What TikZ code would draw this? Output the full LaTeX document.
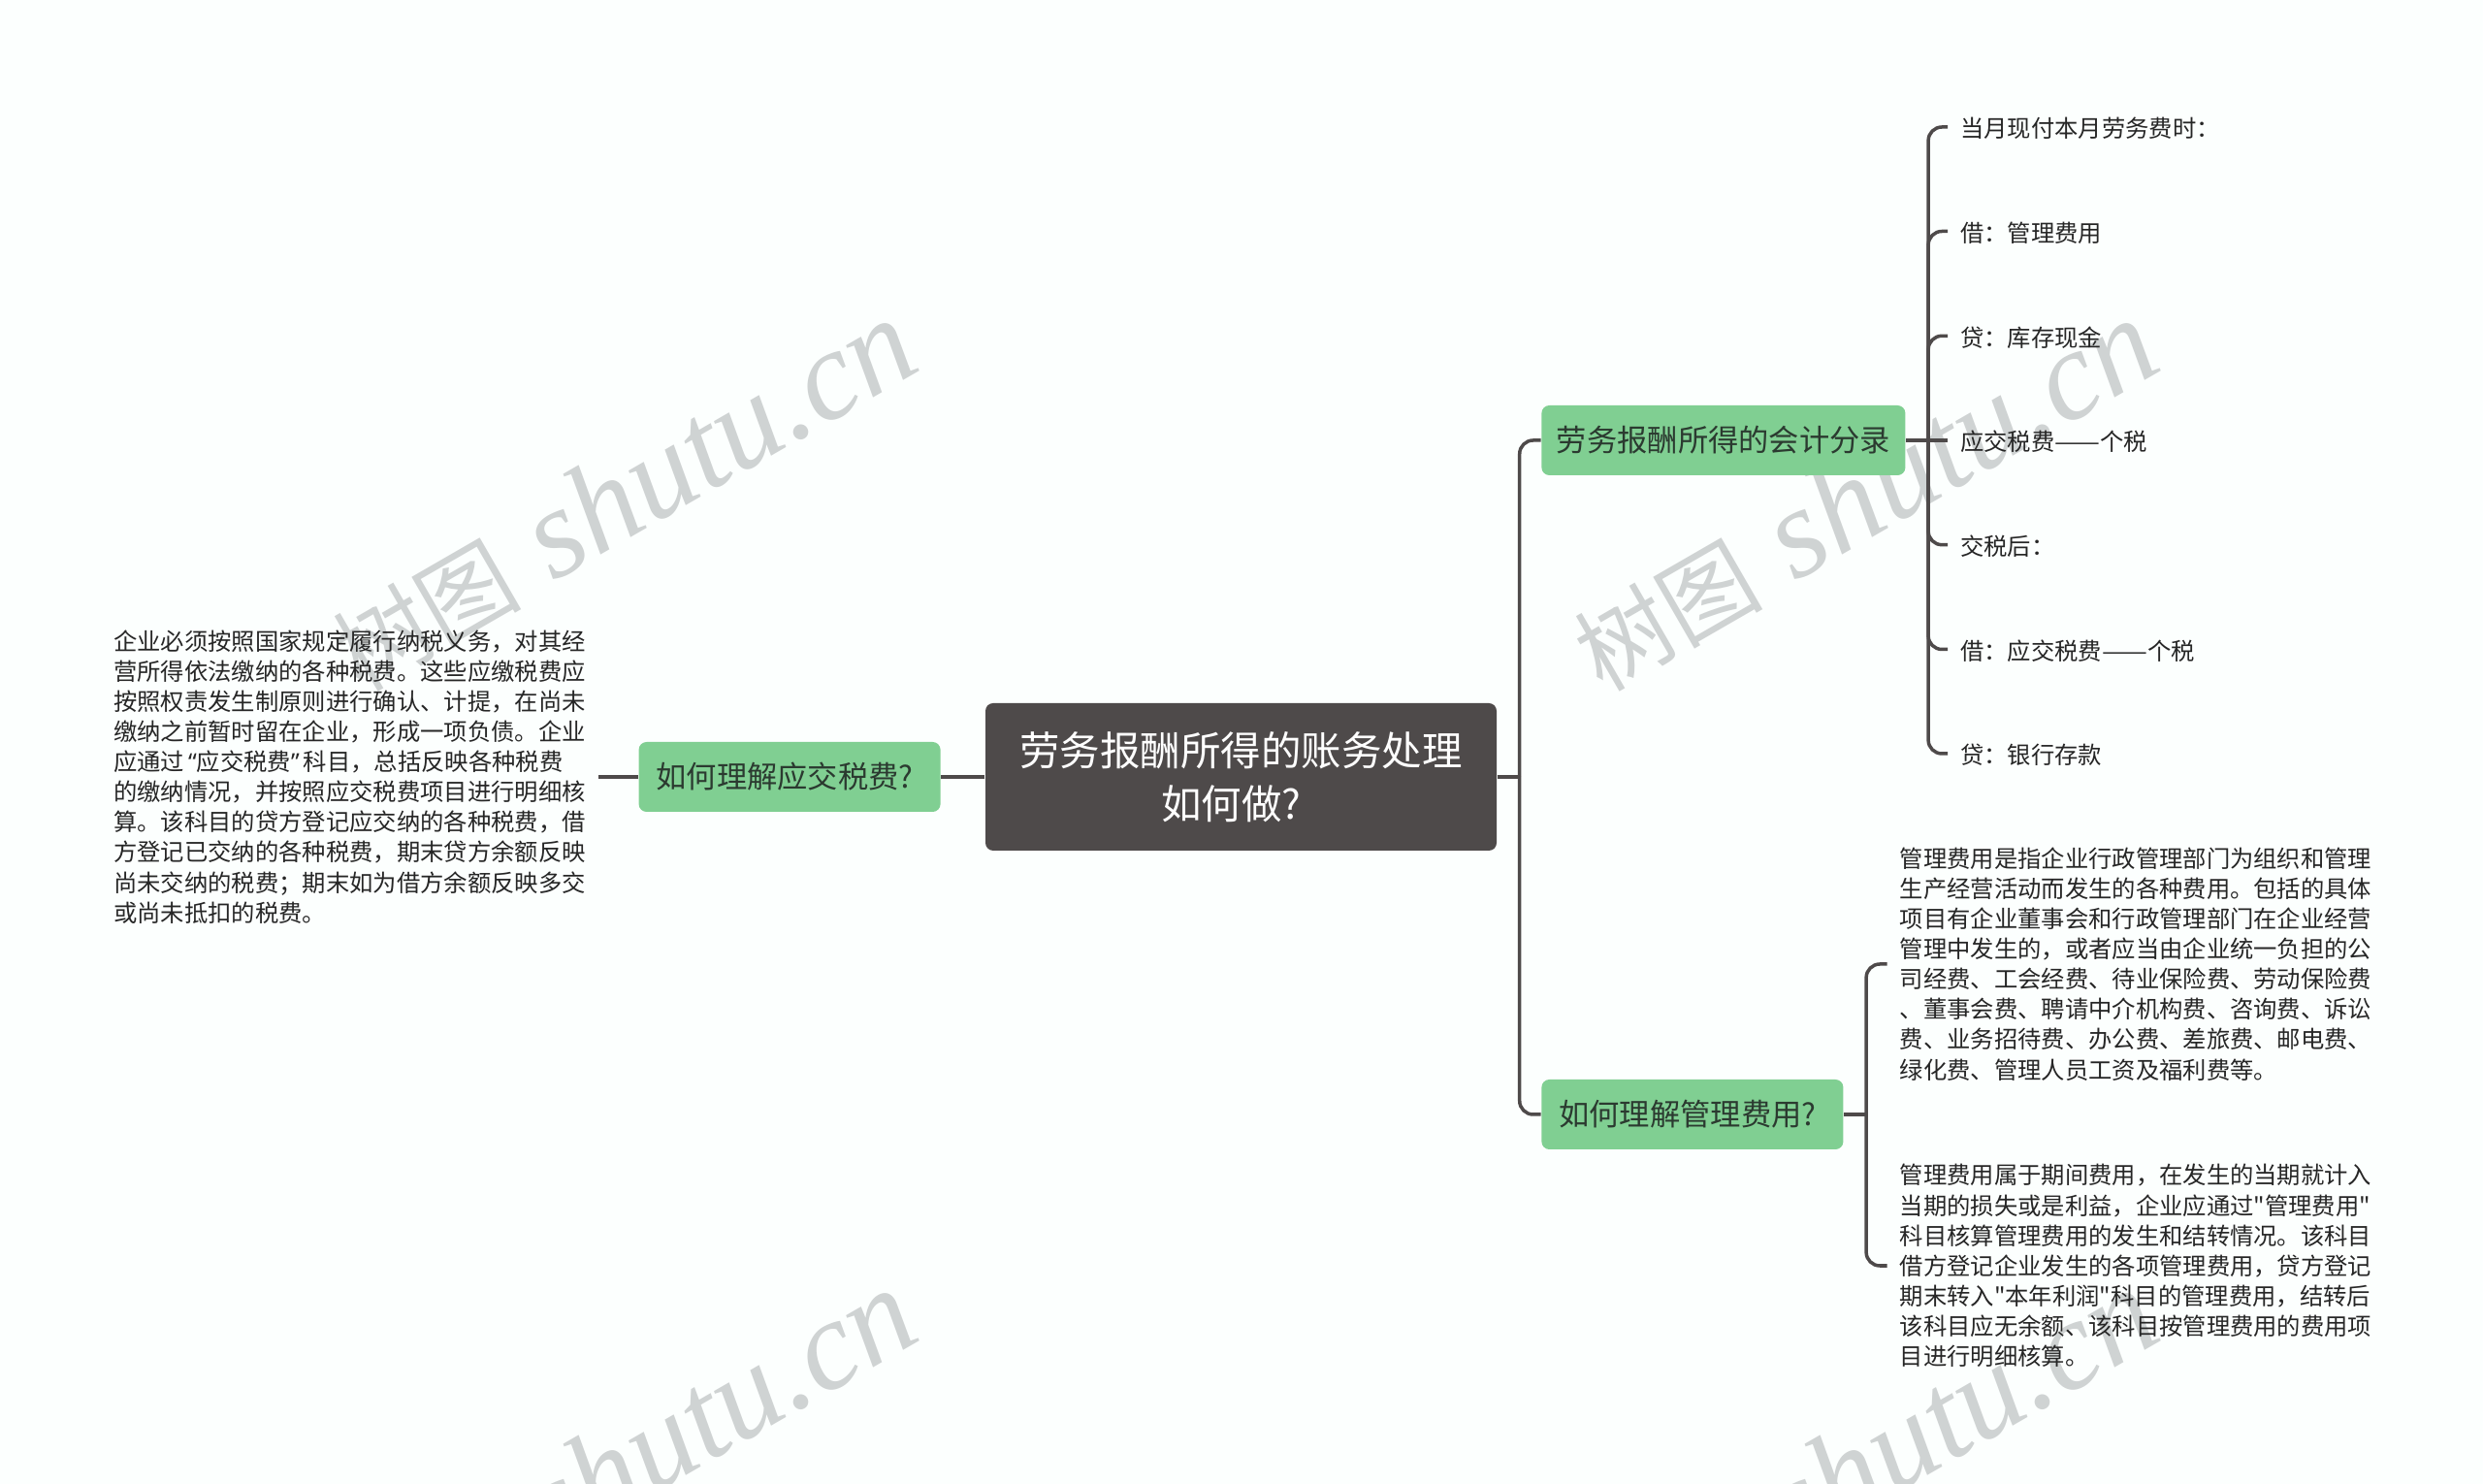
\documentclass[tikz,border=0pt]{standalone}
\usepackage{fontspec}
\usepackage{xcolor}
\usepackage{graphicx}
\usetikzlibrary{positioning}
\setmainfont{Noto Sans CJK SC}[Ligatures=TeXOff]
\newfontfamily\markfont{Liberation Serif}
\newfontfamily\latinfont{Noto Sans}
\newcommand{\marktext}{树图\hspace{0.13cm} {\fontsize{37.4pt}{37.4pt}\selectfont\markfont\itshape shutu.cn}}
\newcommand{\longdash}{\scalebox{1.15}[1]{——}}
\definecolor{bgcol}{HTML}{FCFFFE}
\definecolor{darkcol}{HTML}{4E4A4A}
\definecolor{greencol}{HTML}{80CF92}
\definecolor{inkcol}{HTML}{2B3A30}
\definecolor{markcol}{HTML}{CFD3D3}

\tikzset{
	conn/.style={draw=darkcol, line width=1pt, rounded corners=0.14cm},
	rootbox/.style={rectangle, rounded corners=0.08cm, fill=darkcol, text=white, align=center, font=\fontsize{11.8pt}{15.8pt}\selectfont, minimum width=5.27cm, minimum height=1.52cm, inner sep=0pt},
	branchbox/.style={rectangle, rounded corners=0.08cm, fill=greencol, text=inkcol, font=\fontsize{8.9pt}{11pt}\selectfont, minimum height=0.72cm, inner sep=0pt},
	leaf/.style={text=black!85, font=\fontsize{6.92pt}{8.84pt}\selectfont, inner ysep=0pt, inner xsep=0.125cm, align=left},
	oneline/.style={leaf, text height=7pt, text depth=0.9pt},
	wmark/.style={text=markcol, rotate=30, font=\fontsize{27.7pt}{27.7pt}\selectfont, inner sep=0pt}
}

\begin{document}
\begin{tikzpicture}
	\fill[bgcol] (0,0) rectangle (25.6,15.3);
	\clip (0,0) rectangle (25.6,15.3);

	% watermark
	\node[wmark] (mark1) at (6.42,10.19) {\marktext};
	\node[wmark] (mark2) at (19.22,10.19) {\marktext};
	\node[wmark] (mark3) at (6.42,0.19) {\marktext};
	\node[wmark] (mark4) at (19.22,0.19) {\marktext};

	\node[rootbox] (root) at (12.795,7.29) {劳务报酬所得的账务处理\\如何做?\hspace{0.2cm}\null};

	\node[branchbox, minimum width=3.75cm, right=0.45cm of root, yshift=3.47cm] (entry) {劳务报酬所得的会计分录};
	\node[branchbox, minimum width=3.11cm, right=0.45cm of root, yshift=-3.48cm] (admin) {如何理解管理费用?\hspace{0.1cm}\null};
	\node[branchbox, minimum width=3.11cm, left=0.45cm of root] (tax) {如何理解应交税费?\hspace{0.1cm}\null};

	\node[oneline, right=0.43cm of entry, yshift=3.23cm] (e1) {当月现付本月劳务费时：};
	\node[oneline, right=0.43cm of entry, yshift=2.155cm] (e2) {借：管理费用};
	\node[oneline, right=0.43cm of entry, yshift=1.077cm] (e3) {贷：库存现金};
	\node[oneline, right=0.43cm of entry] (e4) {应交税费\longdash 个税};
	\node[oneline, right=0.43cm of entry, yshift=-1.077cm] (e5) {交税后：};
	\node[oneline, right=0.43cm of entry, yshift=-2.155cm] (e6) {借：应交税费\longdash 个税};
	\node[oneline, right=0.43cm of entry, yshift=-3.23cm] (e7) {贷：银行存款};

	\node[leaf, right=0.445cm of admin, yshift=1.55cm] (a1) {管理费用是指企业行政管理部门为组织和管理\\生产经营活动而发生的各种费用。包括的具体\\项目有企业董事会和行政管理部门在企业经营\\管理中发生的，或者应当由企业统一负担的公\\司经费、工会经费、待业保险费、劳动保险费\\、董事会费、聘请中介机构费、咨询费、诉讼\\费、业务招待费、办公费、差旅费、邮电费、\\绿化费、管理人员工资及福利费等。};
	\node[leaf, right=0.445cm of admin, yshift=-1.56cm] (a2) {管理费用属于期间费用，在发生的当期就计入\\当期的损失或是利益，企业应通过"管理费用"\\科目核算管理费用的发生和结转情况。该科目\\借方登记企业发生的各项管理费用，贷方登记\\期末转入"本年利润"科目的管理费用，结转后\\该科目应无余额、该科目按管理费用的费用项\\目进行明细核算。};

	\node[leaf, left=0.41cm of tax] (t1) {企业必须按照国家规定履行纳税义务，对其经\\营所得依法缴纳的各种税费。这些应缴税费应\\按照权责发生制原则进行确认、计提，在尚未\\缴纳之前暂时留在企业，形成一项负债。企业\\应通过\hspace{0.04cm}{\latinfont “}应交税费{\latinfont ”}\hspace{0.04cm}科目，总括反映各种税费\\的缴纳情况，并按照应交税费项目进行明细核\\算。该科目的贷方登记应交纳的各种税费，借\\方登记已交纳的各种税费，期末贷方余额反映\\尚未交纳的税费；期末如为借方余额反映多交\\或尚未抵扣的税费。};

	\draw[conn] (root) -- (tax);
	\draw[conn] (tax) -- (t1);
	\draw[conn] (root.east) -- ++(0.23,0) coordinate (roothub);
	\draw[conn] (roothub) |- (entry.west);
	\draw[conn] (roothub) |- (admin.west);

	\draw[conn] (entry.east) -- (e4.west);
	\coordinate[right=0.23cm of entry.east] (entryhub);
	\draw[conn] (entryhub) |- (e1.west);
	\draw[conn] (entryhub) |- (e2.west);
	\draw[conn] (entryhub) |- (e3.west);
	\draw[conn] (entryhub) |- (e5.west);
	\draw[conn] (entryhub) |- (e6.west);
	\draw[conn] (entryhub) |- (e7.west);

	\draw[conn] (admin.east) -- ++(0.23,0) coordinate (adminhub);
	\draw[conn] (adminhub) |- (a1.west);
	\draw[conn] (adminhub) |- (a2.west);
\end{tikzpicture}
\end{document}
